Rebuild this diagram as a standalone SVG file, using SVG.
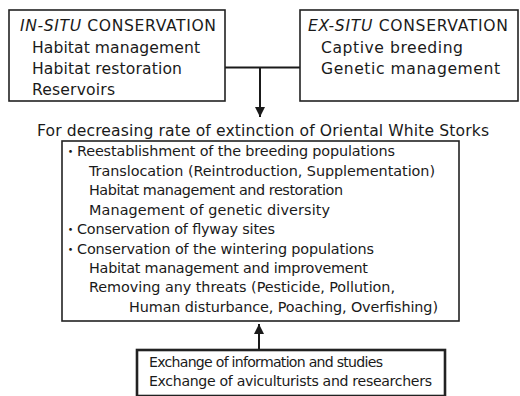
<svg xmlns="http://www.w3.org/2000/svg" width="520" height="396" viewBox="0 0 520 396">
<style>
text{font-family:"DejaVu Sans","Verdana",sans-serif;font-size:15.6px;fill:#1a1a1a}
.m{font-size:14.4px}
.b{font-size:14.1px}
.box{fill:#fff;stroke:#222;stroke-width:1.6}
.thick{stroke-width:2.6}
.con{stroke:#1a1a1a;stroke-width:2;fill:none}
.dot{font-family:"Noto Sans CJK JP",sans-serif;font-size:13px}
</style>
<defs>
<marker id="ah" viewBox="0 0 10 10" refX="10" refY="5" markerWidth="5" markerHeight="5" orient="auto" markerUnits="strokeWidth">
<path d="M0,0 L10,5 L0,10 z" fill="#1a1a1a"/>
</marker>
</defs>
<rect width="520" height="396" fill="#fff"/>
<g id="connectors">
<path class="con" d="M225,67.5 H300"/>
<path class="con" d="M260,67.5 V117" marker-end="url(#ah)"/>
<path class="con" d="M259,350 V324" marker-end="url(#ah)"/>
</g>
<g id="in-situ">
<rect class="box" x="9" y="10" width="216" height="91"/>
<text x="20" y="31" textLength="196"><tspan font-style="italic">IN-SITU</tspan> CONSERVATION</text>
<text x="32" y="52.5" textLength="168">Habitat management</text>
<text x="32" y="74" textLength="150">Habitat restoration</text>
<text x="32" y="95" textLength="83">Reservoirs</text>
</g>
<g id="ex-situ">
<rect class="box" x="300" y="10" width="218" height="91"/>
<text x="308" y="30.5" textLength="200"><tspan font-style="italic">EX-SITU</tspan> CONSERVATION</text>
<text x="321" y="52.5" textLength="142">Captive breeding</text>
<text x="321" y="74" textLength="179">Genetic management</text>
</g>
<g id="goal">
<text x="37" y="136" textLength="452">For decreasing rate of extinction of Oriental White Storks</text>
</g>
<g id="actions">
<rect class="box" x="62" y="141" width="397" height="180"/>
<text class="m" y="156"><tspan class="dot" x="64">・</tspan><tspan x="77" textLength="318">Reestablishment of the breeding populations</tspan></text>
<text class="m" x="89" y="175.6" textLength="346">Translocation (Reintroduction, Supplementation)</text>
<text class="m" x="89" y="195.2" textLength="254">Habitat management and restoration</text>
<text class="m" x="89" y="214.8" textLength="241">Management of genetic diversity</text>
<text class="m" y="234.4"><tspan class="dot" x="64">・</tspan><tspan x="77" textLength="198">Conservation of flyway sites</tspan></text>
<text class="m" y="254"><tspan class="dot" x="64">・</tspan><tspan x="77" textLength="297">Conservation of the wintering populations</tspan></text>
<text class="m" x="89" y="273.2" textLength="279">Habitat management and improvement</text>
<text class="m" x="89" y="292.2" textLength="306">Removing any threats (Pesticide, Pollution,</text>
<text class="m" x="129" y="311.7" textLength="309">Human disturbance, Poaching, Overfishing)</text>
</g>
<g id="cooperation">
<rect class="box thick" x="137" y="350" width="308" height="46"/>
<text class="b" x="149" y="366.5" textLength="234">Exchange of information and studies</text>
<text class="b" x="149" y="386" textLength="283">Exchange of aviculturists and researchers</text>
</g>
</svg>
